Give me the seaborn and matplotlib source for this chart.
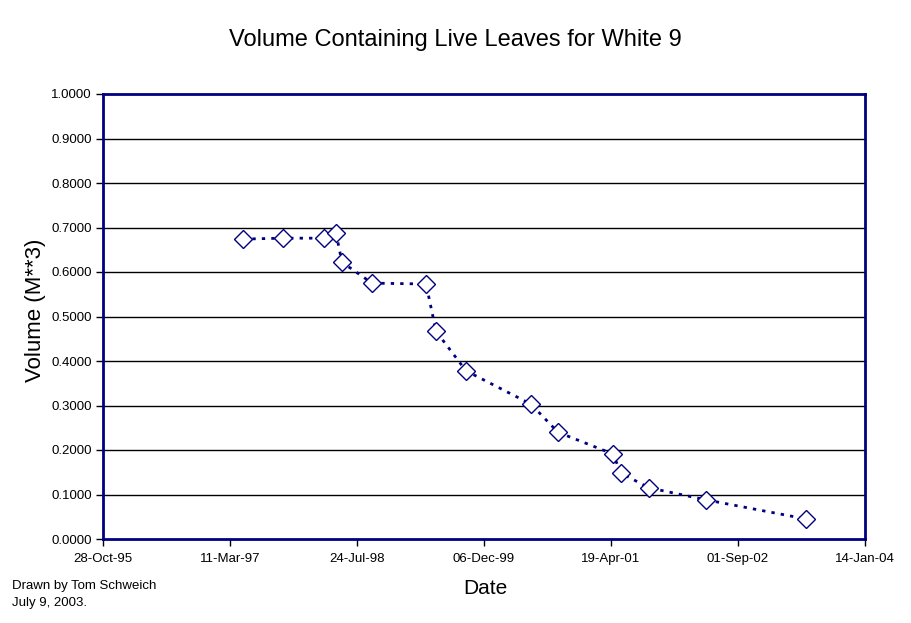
import matplotlib
matplotlib.use("Agg")
import matplotlib.pyplot as plt
import matplotlib.dates as mdates
import seaborn as sns
import pandas as pd
import numpy as np

dates = ["1997-05-01", "1997-10-06", "1998-03-16", "1998-05-02", "1998-05-26",
         "1998-09-21", "1999-04-22", "1999-05-31", "1999-09-26", "2000-06-08",
         "2000-09-22", "2001-04-27", "2001-05-28", "2001-09-16", "2002-04-28",
         "2003-05-27"]
volume = [0.674, 0.676, 0.676, 0.688, 0.622, 0.575, 0.573, 0.467, 0.378, 0.303,
          0.240, 0.191, 0.148, 0.115, 0.088, 0.045]

x_start = "1995-10-28"
x_step_days = 500
n_xticks = 7
y_ticks = [0.0, 0.1, 0.2, 0.3, 0.4, 0.5, 0.6, 0.7, 0.8, 0.9, 1.0]

sns.set_style("white")
plt.rcParams["font.family"] = ["Liberation Sans", "DejaVu Sans"]
plt.rcParams["text.color"] = "black"
plt.rcParams["xtick.color"] = "black"
plt.rcParams["ytick.color"] = "black"
plt.rcParams["axes.labelcolor"] = "black"

df = pd.DataFrame({"Date": pd.to_datetime(dates), "Volume": volume})

fig = plt.figure(figsize=(9.11, 6.23), dpi=100)
ax = fig.add_axes([103 / 911, 1 - 539 / 623, (865 - 103) / 911, (539 - 94) / 623])

navy = "#000080"
sns.lineplot(data=df, x="Date", y="Volume", ax=ax, estimator=None, sort=False,
             color=navy, linewidth=2, linestyle=(0, (1.2, 2.2)),
             marker="D", markersize=9, markerfacecolor="white",
             markeredgecolor=navy, markeredgewidth=1)

start = pd.Timestamp(x_start)
xticks = [start + pd.Timedelta(days=x_step_days * k) for k in range(n_xticks)]
ax.set_xlim(mdates.date2num(xticks[0]), mdates.date2num(xticks[-1]))
ax.set_xticks([mdates.date2num(t) for t in xticks])
ax.xaxis.set_major_formatter(mdates.DateFormatter("%d-%b-%y"))
ax.set_ylim(0, 1.0)
ax.set_yticks(y_ticks)
ax.set_yticklabels([f"{v:.4f}" for v in y_ticks])

for yv in y_ticks[1:-1]:
    ax.axhline(yv, color="black", linewidth=1, zorder=0)

for s in ax.spines.values():
    s.set_visible(True)
    s.set_color(navy)
    s.set_linewidth(2)

ax.tick_params(axis="both", which="major", direction="out", length=5, width=1,
               color="black", labelcolor="black", labelsize=9.5, bottom=True, left=True)
ax.tick_params(axis="x", pad=5)
ax.tick_params(axis="y", pad=3)

ax.set_xlabel("")
ax.set_ylabel("")
fig.text(485 / 911, 1 - 589 / 623, "Date", ha="center", va="center", fontsize=15, color="black")
fig.text(36 / 911, 1 - 310 / 623, "Volume (M**3)", ha="center", va="center",
         rotation=90, fontsize=16, color="black")
fig.text(455 / 911, 1 - 40 / 623, "Volume Containing Live Leaves for White 9",
         ha="center", va="center", fontsize=17, color="black")
fig.text(12 / 911, 1 - 586 / 623, "Drawn by Tom Schweich", ha="left", va="center",
         fontsize=9.5, color="black")
fig.text(12 / 911, 1 - 603 / 623, "July 9, 2003.", ha="left", va="center",
         fontsize=9.5, color="black")

fig.savefig("out.png", dpi=100)
